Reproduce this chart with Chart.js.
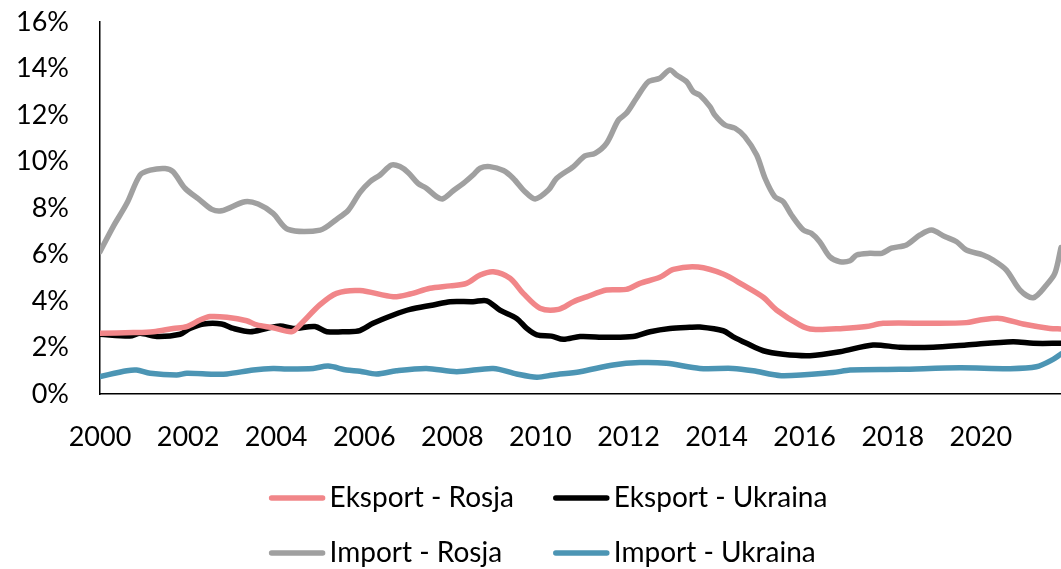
<!DOCTYPE html>
<html>
<head>
<meta charset="utf-8">
<script src="https://cdn.jsdelivr.net/npm/chart.js@4.4.1/dist/chart.umd.min.js"></script>
<style>
  body { margin: 0; background: #fff; }
</style>
</head>
<body>
<canvas id="chart_1" width="1061" height="569"></canvas>
<script>
// series names (legend order)
var seriesNames = ['Eksport - Rosja', 'Eksport - Ukraina', 'Import - Rosja', 'Import - Ukraina'];

// Eksport - Rosja (% share)
var eksRosjaX = [2000.0, 2000.76, 2001.21, 2001.66, 2001.97, 2002.27, 2002.5, 2002.88, 2003.33, 2003.56, 2003.93, 2004.35, 2004.54, 2004.99, 2005.37, 2005.9,
  2006.66, 2007.04, 2007.49, 2007.95, 2008.32, 2008.63, 2008.93, 2009.31, 2009.61, 2009.99, 2010.41, 2010.75, 2011.05, 2011.5, 2011.95,
  2012.26, 2012.71, 2013.02, 2013.58, 2014.15, 2014.6, 2015.06, 2015.36, 2015.89, 2016.19, 2016.87, 2017.4, 2017.78, 2018.92, 2019.67,
  2019.98, 2020.43, 2020.96, 2021.57, 2021.82];
var eksRosjaY = [2.61, 2.64, 2.68, 2.82, 2.9, 3.18, 3.33, 3.3, 3.15, 2.97, 2.85, 2.68, 2.97, 3.83, 4.33, 4.45,
  4.18, 4.3, 4.55, 4.65, 4.76, 5.12, 5.26, 4.98, 4.33, 3.69, 3.64, 3.97, 4.18, 4.47, 4.5,
  4.76, 5.02, 5.36, 5.46, 5.16, 4.69, 4.16, 3.61, 2.97, 2.78, 2.82, 2.9, 3.04, 3.04, 3.07,
  3.18, 3.25, 3.01, 2.82, 2.8];

// Eksport - Ukraina
var eksUkrX = [2000.0, 2000.68, 2000.91, 2001.29, 2001.82, 2002.04, 2002.35, 2002.76, 2003.03, 2003.41, 2003.78, 2004.09, 2004.39, 2004.88, 2005.15, 2005.6, 2005.9,
  2006.2, 2006.66, 2007.04, 2007.57, 2007.95, 2008.47, 2008.78, 2009.08, 2009.46, 2009.69, 2009.92, 2010.25, 2010.52, 2010.9, 2011.5, 2012.1,
  2012.49, 2012.94, 2013.39, 2013.62, 2014.15, 2014.37, 2014.68, 2015.06, 2015.51, 2016.12, 2016.8, 2017.55, 2018.16, 2018.92, 2019.67,
  2020.73, 2021.19, 2021.82];
var eksUkrY = [2.57, 2.49, 2.61, 2.47, 2.57, 2.82, 3.01, 3.01, 2.82, 2.68, 2.82, 2.92, 2.82, 2.9, 2.68, 2.68, 2.73,
  3.04, 3.4, 3.64, 3.83, 3.97, 3.97, 4.01, 3.61, 3.25, 2.82, 2.54, 2.49, 2.35, 2.47, 2.44, 2.47,
  2.68, 2.82, 2.87, 2.88, 2.72, 2.47, 2.18, 1.86, 1.71, 1.65, 1.82, 2.11, 2.01, 2.01, 2.11,
  2.25, 2.18, 2.18];

// Import - Rosja
var impRosjaX = [2000.0, 2000.3, 2000.61, 2000.91, 2001.14, 2001.48, 2001.66, 2001.93, 2002.27, 2002.54, 2002.76, 2003.29, 2003.59, 2003.93, 2004.27, 2005.0,
  2005.37, 2005.64, 2005.9, 2006.13, 2006.36, 2006.62, 2006.81, 2007.0, 2007.22, 2007.41, 2007.64, 2007.78, 2008.02, 2008.25, 2008.47,
  2008.63, 2008.85, 2009.16, 2009.38, 2009.65, 2009.88, 2010.18, 2010.37, 2010.75, 2011.01, 2011.24, 2011.5, 2011.77, 2011.95, 2012.18,
  2012.45, 2012.71, 2012.94, 2013.09, 2013.32, 2013.47, 2013.62, 2013.85, 2013.96, 2014.19, 2014.42, 2014.64, 2014.91, 2015.1, 2015.32,
  2015.51, 2015.7, 2015.97, 2016.15, 2016.34, 2016.57, 2016.8, 2017.03, 2017.18, 2017.48, 2017.75, 2017.97, 2018.31, 2018.62, 2018.88,
  2019.18, 2019.45, 2019.67, 2020.05, 2020.28, 2020.58, 2020.89, 2021.19, 2021.49, 2021.68, 2021.82];
var impRosjaY = [6.12, 7.2, 8.2, 9.42, 9.63, 9.7, 9.56, 8.85, 8.34, 7.94, 7.88, 8.27, 8.17, 7.77, 7.08, 7.05,
  7.51, 7.91, 8.66, 9.13, 9.42, 9.85, 9.78, 9.52, 9.06, 8.85, 8.49, 8.39, 8.74, 9.06, 9.42,
  9.71, 9.78, 9.61, 9.28, 8.7, 8.39, 8.77, 9.28, 9.78, 10.24, 10.35, 10.78, 11.78, 12.07, 12.72,
  13.43, 13.58, 13.94, 13.72, 13.43, 13.0, 12.85, 12.36, 12.0, 11.57, 11.43, 11.07, 10.28, 9.28, 8.49,
  8.27, 7.7, 7.05, 6.91, 6.55, 5.9, 5.69, 5.73, 5.98, 6.05, 6.05, 6.27, 6.41, 6.84, 7.05,
  6.77, 6.55, 6.19, 5.98, 5.76, 5.33, 4.47, 4.14, 4.69, 5.19, 6.3];

// Import - Ukraina
var impUkrX = [2000.0, 2000.61, 2000.83, 2001.14, 2001.74, 2001.97, 2002.57, 2002.88, 2003.48, 2003.93, 2004.24, 2004.84, 2005.18, 2005.6, 2005.9,
  2006.28, 2006.73, 2007.41, 2008.1, 2008.93, 2009.46, 2009.92, 2010.29, 2010.9, 2011.65, 2012.26, 2012.86, 2013.62, 2014.37, 2014.83,
  2015.47, 2016.64, 2017.03, 2018.16, 2019.52, 2020.66, 2021.26, 2021.64, 2021.82];
var impUkrY = [0.75, 1.0, 1.03, 0.89, 0.82, 0.89, 0.85, 0.86, 1.03, 1.1, 1.08, 1.1, 1.2, 1.03, 0.98,
  0.86, 1.0, 1.1, 0.96, 1.1, 0.86, 0.72, 0.82, 0.96, 1.25, 1.35, 1.32, 1.1, 1.1, 1.0,
  0.79, 0.92, 1.03, 1.06, 1.13, 1.09, 1.17, 1.49, 1.72];

var seriesColors = ['rgb(241,134,137)', 'rgb(0,0,0)', 'rgb(160,160,160)', 'rgb(76,149,180)'];

function pairs(xs, ys) {
  return xs.map(function (x, i) { return { x: x, y: ys[i] }; });
}

var allX = [eksRosjaX, eksUkrX, impRosjaX, impUkrX];
var allY = [eksRosjaY, eksUkrY, impRosjaY, impUkrY];

var FONT = { family: "Lato, 'Liberation Sans', sans-serif", size: 27 };
var LEGEND_FONT_SIZE = 28;

// legend drawn below the axis: two rows, two columns
var bottomLegend = {
  id: 'bottomLegend',
  afterDraw: function (chart) {
    var ctx = chart.ctx;
    var ds = chart.data.datasets;
    ctx.save();
    ctx.font = LEGEND_FONT_SIZE + 'px ' + FONT.family;
    ctx.textBaseline = 'middle';
    var lineLen = 57, gap = 4, colGap = 39;
    var w = ds.map(function (d) { return ctx.measureText(d.label).width; });
    var col1 = lineLen + gap + Math.max(w[0], w[2]);
    var col2 = lineLen + gap + Math.max(w[1], w[3]);
    var total = col1 + colGap + col2;
    var startX = 548 - total / 2;
    var rows = [498, 553];
    for (var i = 0; i < ds.length; i++) {
      var x = startX + (i % 2 === 0 ? 0 : col1 + colGap);
      var y = rows[Math.floor(i / 2)];
      ctx.strokeStyle = ds[i].borderColor;
      ctx.lineWidth = 5.5;
      ctx.lineCap = 'round';
      ctx.beginPath();
      ctx.moveTo(x + 3, y);
      ctx.lineTo(x + lineLen - 3, y);
      ctx.stroke();
      ctx.fillStyle = '#000';
      ctx.fillText(ds[i].label, x + lineLen + gap, y);
    }
    ctx.restore();
  }
};

new Chart('chart_1', {
  type: 'line',
  data: {
    datasets: seriesNames.map(function (name, i) {
      return {
        label: name,
        data: pairs(allX[i], allY[i]),
        borderColor: seriesColors[i],
        backgroundColor: seriesColors[i],
        borderWidth: 5.5,
        pointRadius: 0,
        tension: 0.3,
        borderJoinStyle: 'round',
        borderCapStyle: 'round'
      };
    })
  },
  options: {
    responsive: false,
    animation: false,
    layout: { padding: { top: 22, right: 0, left: 0, bottom: 0 } },
    plugins: {
      legend: { display: false },
      tooltip: { enabled: false }
    },
    scales: {
      x: {
        type: 'linear',
        min: 2000,
        max: 2021.82,
        grid: { display: false, drawTicks: false },
        border: { display: true, color: '#000', width: 1.5 },
        ticks: {
          stepSize: 2,
          includeBounds: false,
          autoSkip: false,
          maxRotation: 0,
          padding: 27,
          color: '#000',
          font: FONT,
          callback: function (v) { return String(v); }
        },
        afterFit: function (scale) { scale.height = 175; }
      },
      y: {
        min: 0,
        max: 16,
        grid: { display: false, drawTicks: false },
        border: { display: true, color: '#000', width: 1.5 },
        ticks: {
          stepSize: 2,
          padding: 31,
          color: '#000',
          font: FONT,
          callback: function (v) { return v + '%'; }
        },
        afterFit: function (scale) {
          scale.width = 100;
          // tick padding is horizontal here, don't let it push the plot down
          scale.paddingTop = 0;
          scale.paddingBottom = 0;
        }
      }
    }
  },
  plugins: [bottomLegend]
});
</script>
</body>
</html>
